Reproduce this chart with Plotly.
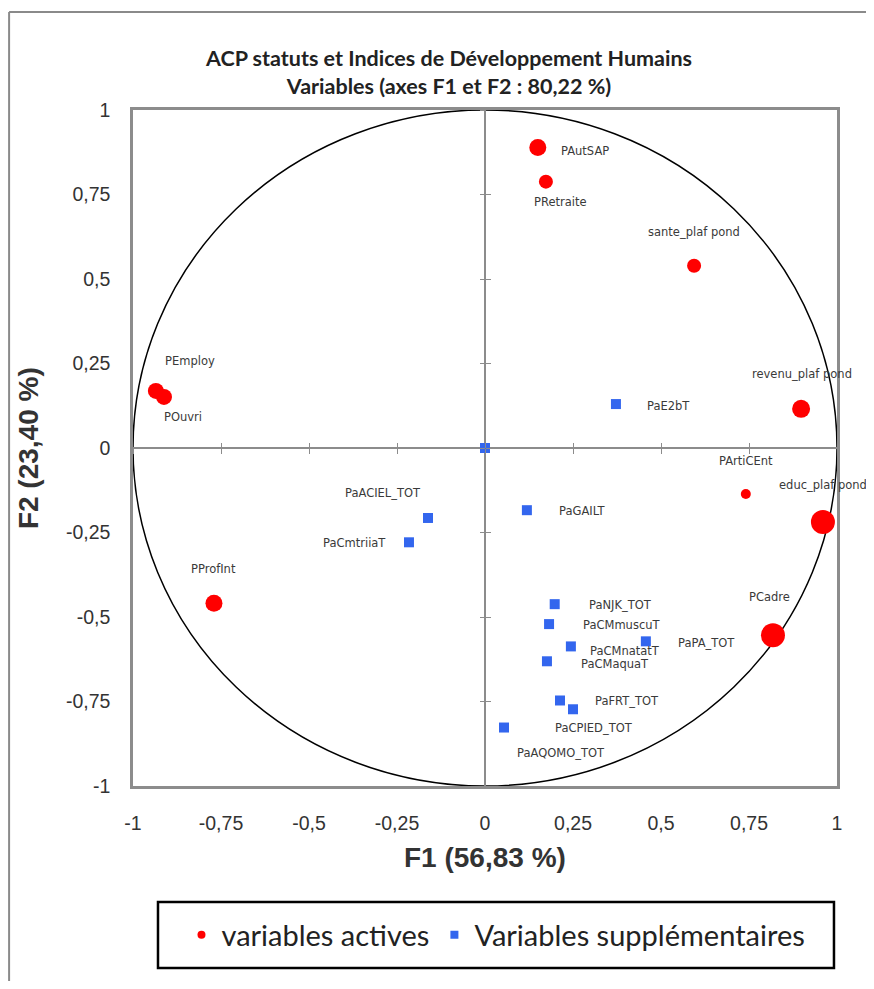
import plotly.graph_objects as go

# ---------------- data ----------------
active_names = ["PAutSAP", "PRetraite", "sante_plaf pond", "revenu_plaf pond", "PArtiCEnt",
                "educ_plaf pond", "PCadre", "PEmploy", "POuvri", "PProfInt"]
active_f1 = [0.150, 0.173, 0.594, 0.898, 0.741, 0.960, 0.818, -0.935, -0.912, -0.770]
active_f2 = [0.889, 0.788, 0.539, 0.116, -0.136, -0.219, -0.554, 0.169, 0.151, -0.459]

supp_names = ["PaE2bT", "", "PaACIEL_TOT", "PaCmtriiaT", "PaGAILT", "PaNJK_TOT", "PaCMmuscuT",
              "PaCMnatatT", "PaCMaquaT", "PaPA_TOT", "PaFRT_TOT", "PaCPIED_TOT", "PaAQOMO_TOT"]
supp_f1 = [0.372, 0.000, -0.162, -0.216, 0.119, 0.198, 0.182, 0.244, 0.176, 0.457, 0.213, 0.250, 0.054]
supp_f2 = [0.130, 0.000, -0.207, -0.279, -0.184, -0.462, -0.521, -0.587, -0.631, -0.572, -0.747, -0.773, -0.827]

tick_vals = [-1, -0.75, -0.5, -0.25, 0, 0.25, 0.5, 0.75, 1]
tick_text = ["-1", "-0,75", "-0,5", "-0,25", "0", "0,25", "0,5", "0,75", "1"]

title_text = "ACP statuts et Indices de Développement Humains<br>Variables (axes F1 et F2 : 80,22 %)"
x_title = "F1 (56,83 %)"
y_title = "F2 (23,40 %)"
legend_active = "variables actives"
legend_supp = "Variables supplémentaires"

# ---------------- styles ----------------
active_sizes = [17, 14, 14, 18, 10, 24, 24, 16, 16, 17]
active_label_shift = [(47, -3), (15, -20), (0, 34), (1, 35), (0, 33), (0, 37), (-3, 38),
                      (34, 30), (19, -20), (0, 34)]
supp_label_shift = [(53, -2), (0, 0), (-45, 25), (-54, -1), (55, -1), (66, -1), (73, -1),
                    (54, -5), (68, -3), (61, -2), (67, -1), (21, -19), (57, -25)]

RED = "#FF0000"
BLUE = "#3366EE"
GRAY = "#8C8C8C"
LABEL_FONT = dict(family="DejaVu Sans", size=11.5, color="#3a3a3a")

fig = go.Figure()

# unit circle
fig.add_shape(type="circle", xref="x", yref="y", x0=-1, y0=-1, x1=1, y1=1,
              line=dict(color="black", width=1.5), layer="below")

fig.add_trace(go.Scatter(x=supp_f1, y=supp_f2, mode="markers",
                         marker=dict(symbol="square", size=10, color=BLUE, opacity=1,
                                     line=dict(width=0)),
                         showlegend=False, hoverinfo="skip"))
fig.add_trace(go.Scatter(x=active_f1, y=active_f2, mode="markers",
                         marker=dict(symbol="circle", size=active_sizes, color=RED, opacity=1,
                                     line=dict(width=0)),
                         showlegend=False, hoverinfo="skip"))

# legend-only traces
fig.add_trace(go.Scatter(x=[None], y=[None], mode="markers", name=legend_active,
                         marker=dict(symbol="circle", size=8, color=RED)))
fig.add_trace(go.Scatter(x=[None], y=[None], mode="markers", name=legend_supp,
                         marker=dict(symbol="square", size=8, color=BLUE)))

annotations = []
for n, x, y, (dx, dy) in zip(active_names, active_f1, active_f2, active_label_shift):
    annotations.append(dict(x=x, y=y, xref="x", yref="y", text=n, showarrow=False,
                            xshift=dx, yshift=dy, font=LABEL_FONT))
for n, x, y, (dx, dy) in zip(supp_names, supp_f1, supp_f2, supp_label_shift):
    if n:
        annotations.append(dict(x=x, y=y, xref="x", yref="y", text=n, showarrow=False,
                                xshift=dx, yshift=dy, font=LABEL_FONT))

AXT_FONT = dict(family="Liberation Sans", size=28, color="#333333", weight="bold")
annotations.append(dict(x=0.5, y=-0.1065, xref="paper", yref="paper", text=x_title,
                        showarrow=False, yanchor="middle", font=AXT_FONT))
annotations.append(dict(x=-0.149, y=0.5, xref="paper", yref="paper", text=y_title,
                        showarrow=False, textangle=-90, xanchor="center", font=AXT_FONT))

# outer frame: only its top and left sides fall inside the picture
FRAME = dict(color="#8a8a8a", width=2)
fig.add_shape(type="line", xref="paper", yref="paper", x0=-0.176, y0=1.145, x1=1.2, y1=1.145,
              line=FRAME, layer="below")
fig.add_shape(type="line", xref="paper", yref="paper", x0=-0.176, y0=1.145, x1=-0.176, y1=-0.6,
              line=FRAME, layer="below")
# legend frame
fig.add_shape(type="rect", xref="paper", yref="paper", x0=0.0355, y0=-0.2692, x1=0.9957, y1=-0.1716,
              line=dict(color="black", width=2.5), fillcolor="white", layer="below")

axis_common = dict(range=[-1, 1], tickvals=tick_vals, ticktext=tick_text,
                   showgrid=False, zeroline=True, zerolinecolor=GRAY, zerolinewidth=1.5,
                   showline=True, linecolor=GRAY, linewidth=2.5, mirror=True,
                   ticks="", tickfont=dict(family="Liberation Sans", size=19.5, color="#333333"))

tick_axis = dict(anchor="free", position=0.5, range=[-1, 1], tickvals=tick_vals,
                 ticklen=5, tickwidth=1, tickcolor=GRAY, showticklabels=False,
                 showgrid=False, zeroline=False, showline=False)

fig.update_layout(
    width=858, height=973,
    margin=dict(l=125, r=29, t=102, b=195),
    paper_bgcolor="white", plot_bgcolor="white",
    title=dict(text=title_text, x=0.514, xanchor="center", y=0.940, yanchor="middle",
               font=dict(family="Lato", size=21.5, color="#222222", weight="bold")),
    xaxis=dict(**axis_common, ticklabelstandoff=18),
    yaxis=dict(**axis_common, ticklabelstandoff=16),
    xaxis2=dict(overlaying="x", ticks="outside", **tick_axis),
    xaxis3=dict(overlaying="x", ticks="inside", **tick_axis),
    yaxis2=dict(overlaying="y", ticks="outside", **tick_axis),
    yaxis3=dict(overlaying="y", ticks="inside", **tick_axis),
    legend=dict(orientation="h", x=0.5156, xanchor="center", y=-0.2204, yanchor="middle",
                borderwidth=0, bgcolor="rgba(0,0,0,0)",
                font=dict(family="Lato", size=29, color="#222222"),
                itemwidth=30, tracegroupgap=0),
    annotations=annotations,
    showlegend=True,
)

# invisible traces so the tick-only axes render
fig.add_trace(go.Scatter(x=[None], y=[None], xaxis="x2", yaxis="y", showlegend=False, hoverinfo="skip"))
fig.add_trace(go.Scatter(x=[None], y=[None], xaxis="x3", yaxis="y", showlegend=False, hoverinfo="skip"))
fig.add_trace(go.Scatter(x=[None], y=[None], xaxis="x", yaxis="y2", showlegend=False, hoverinfo="skip"))
fig.add_trace(go.Scatter(x=[None], y=[None], xaxis="x", yaxis="y3", showlegend=False, hoverinfo="skip"))

fig.write_html("out.html")
